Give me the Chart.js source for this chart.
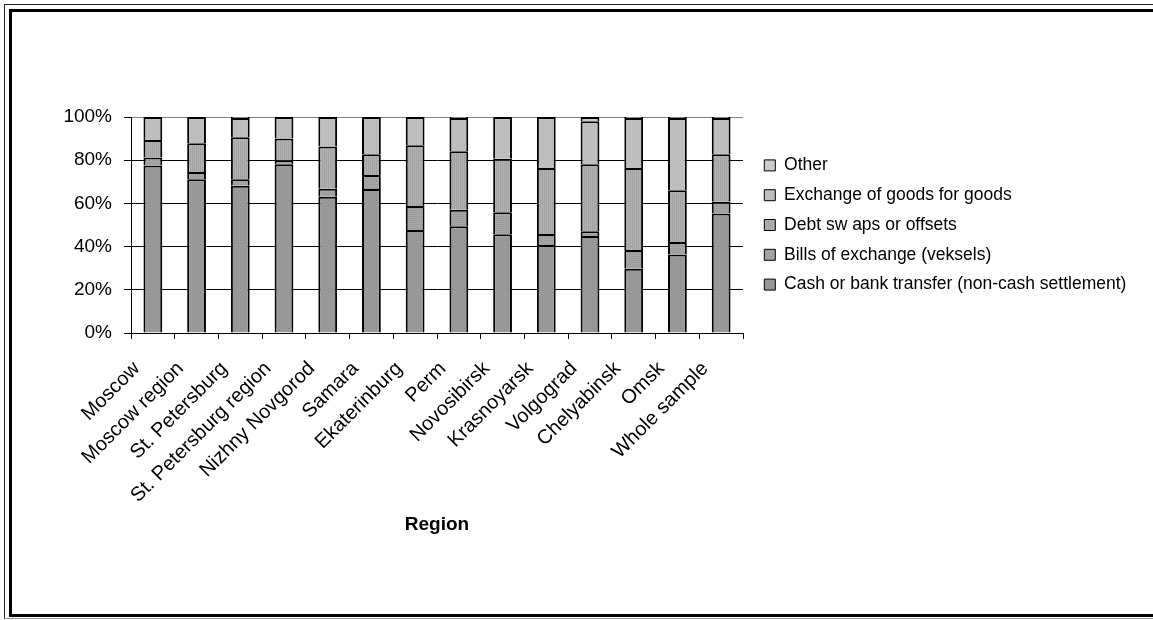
<!DOCTYPE html>
<html>
<head>
<meta charset="utf-8">
<script src="https://cdn.jsdelivr.net/npm/chart.js@4.4.1/dist/chart.umd.min.js"></script>
<style>
  html, body { margin: 0; padding: 0; background: #fff; overflow: hidden; }
  #wrap { position: relative; width: 1153px; height: 620px; overflow: hidden; }
  .frame-outer { position: absolute; left: 4px; top: 4px; width: 1300px; height: 615px;
    box-sizing: border-box; border: 1px solid #222; border-bottom-color: #999; }
  .frame-inner { position: absolute; left: 9px; top: 9px; width: 1300px; height: 608px;
    box-sizing: border-box; border: 3px solid #000; }
  canvas { position: absolute; left: 0; top: 0; }
</style>
</head>
<body>
<div id="wrap">
  <div class="frame-outer"></div>
  <div class="frame-inner"></div>
  <canvas id="chart" width="1153" height="620"></canvas>
</div>
<script>
// Payment methods by region, share of transactions (%)
const regions = ['Moscow', 'Moscow region', 'St. Petersburg', 'St. Petersburg region',
  'Nizhny Novgorod', 'Samara', 'Ekaterinburg', 'Perm', 'Novosibirsk', 'Krasnoyarsk',
  'Volgograd', 'Chelyabinsk', 'Omsk', 'Whole sample'];
const cashOrTransfer = [77.6, 71.2, 68.2, 78.1, 63.1, 66.7, 47.7, 49.4, 45.7, 40.7, 44.9, 29.8, 36.3, 55.3];
const billsOfExchange = [3.6, 3.3, 3.0, 1.8, 3.7, 6.4, 11.1, 7.7, 10.2, 5.1, 2.2, 8.6, 5.8, 5.5];
const debtSwaps = [8.2, 13.3, 19.4, 10.1, 19.5, 9.6, 28.1, 27.0, 24.8, 30.6, 31.0, 38.0, 24.0, 21.9];
const goodsForGoods = [10.6, 12.2, 8.9, 10.0, 13.7, 17.3, 13.1, 15.4, 19.3, 23.6, 19.9, 23.1, 33.4, 16.8];
const otherMethods = [0, 0, 0.5, 0, 0, 0, 0, 0.5, 0, 0, 2.0, 0.5, 0.5, 0.5];
const seriesNames = ['Cash or bank transfer (non-cash settlement)', 'Bills of exchange (veksels)',
  'Debt sw aps or offsets', 'Exchange of goods for goods', 'Other'];
const yTicks = [0, 20, 40, 60, 80, 100];

// small repeating fills in the style of monochrome print patterns
function makePattern(bg, fg, kind) {
  const c = document.createElement('canvas');
  c.width = 4; c.height = 4;
  const g = c.getContext('2d');
  g.fillStyle = bg; g.fillRect(0, 0, 4, 4);
  g.fillStyle = fg;
  if (kind === 'dots') { g.fillRect(0, 0, 1, 1); g.fillRect(2, 2, 1, 1); }
  else if (kind === 'check') { g.fillRect(0, 0, 1, 1); g.fillRect(2, 0, 1, 1); g.fillRect(1, 2, 1, 1); g.fillRect(3, 2, 1, 1); }
  else if (kind === 'vlines') { g.fillRect(0, 0, 1, 4); g.fillRect(2, 0, 1, 4); }
  else if (kind === 'sparse') { g.fillRect(1, 1, 1, 1); }
  return g.createPattern(c, 'repeat');
}

const fills = [
  makePattern('#9a9a9a', '#888888', 'dots'),
  makePattern('#a6a6a6', '#949494', 'check'),
  makePattern('#b1b1b1', '#a3a3a3', 'vlines'),
  makePattern('#c0c0c0', '#aeaeae', 'dots'),
  makePattern('#cdcdcd', '#c0c0c0', 'sparse')
];

const seriesValues = [cashOrTransfer, billsOfExchange, debtSwaps, goodsForGoods, otherMethods];

const datasets = seriesValues.map((vals, i) => ({
  label: seriesNames[i],
  data: vals,
  backgroundColor: fills[i],
  borderColor: '#000',
  borderWidth: 2,
  borderSkipped: 'start',
  barPercentage: 0.43,
  categoryPercentage: 1.0
}));

const FONT = "'Liberation Sans', Arial, Helvetica, sans-serif";

// nudge the legend block away from the plot edge
const legendInset = {
  id: 'legendInset',
  afterLayout(chart) {
    const lg = chart.legend;
    if (lg) { lg.left += 9; lg.right += 9; }
  }
};

new Chart(document.getElementById('chart'), {
  type: 'bar',
  data: { labels: regions, datasets },
  plugins: [legendInset],
  options: {
    responsive: false,
    animation: false,
    devicePixelRatio: 1,
    layout: { padding: { top: 117, left: 20, right: 30, bottom: 84 } },
    plugins: {
      tooltip: { enabled: false },
      legend: {
        position: 'right',
        fullSize: false,
        reverse: true,
        maxWidth: 380,
        labels: {
          boxWidth: 11,
          boxHeight: 11,
          padding: 12.3,
          color: '#000',
          font: { family: FONT, size: 17.5 },
          generateLabels(chart) {
            const items = Chart.defaults.plugins.legend.labels.generateLabels(chart);
            items.forEach(it => { it.lineWidth = 1; });
            return items;
          }
        }
      }
    },
    scales: {
      x: {
        stacked: true,
        offset: true,
        afterFit(scale) { scale.height = 203; },
        border: { display: true, color: '#000', width: 1 },
        grid: {
          display: true,
          drawOnChartArea: true,
          drawTicks: true,
          tickLength: 6,
          tickColor: '#000',
          color: (ctx) => (ctx.index === regions.length ? '#808080' : 'rgba(0,0,0,0)')
        },
        ticks: {
          autoSkip: false,
          maxRotation: 45,
          minRotation: 45,
          padding: 18,
          labelOffset: -16,
          color: '#000',
          font: { family: FONT, size: 20 }
        },
        title: {
          display: true,
          text: 'Region',
          color: '#000',
          padding: { top: 0, bottom: 0 },
          font: { family: FONT, size: 19, weight: 'bold' }
        }
      },
      y: {
        stacked: true,
        min: 0,
        max: 100,
        afterFit(scale) { scale.width = 111; },
        afterBuildTicks(scale) { scale.ticks = yTicks.map(v => ({ value: v })); },
        border: { display: true, color: '#000', width: 1 },
        grid: {
          color: (ctx) => (ctx.tick && ctx.tick.value === 100 ? '#808080' : '#000'),
          tickColor: '#000',
          tickLength: 7,
          lineWidth: 1
        },
        ticks: {
          padding: 12,
          color: '#000',
          font: { family: FONT, size: 19 },
          callback: (v) => v + '%'
        }
      }
    }
  }
});
</script>
</body>
</html>
